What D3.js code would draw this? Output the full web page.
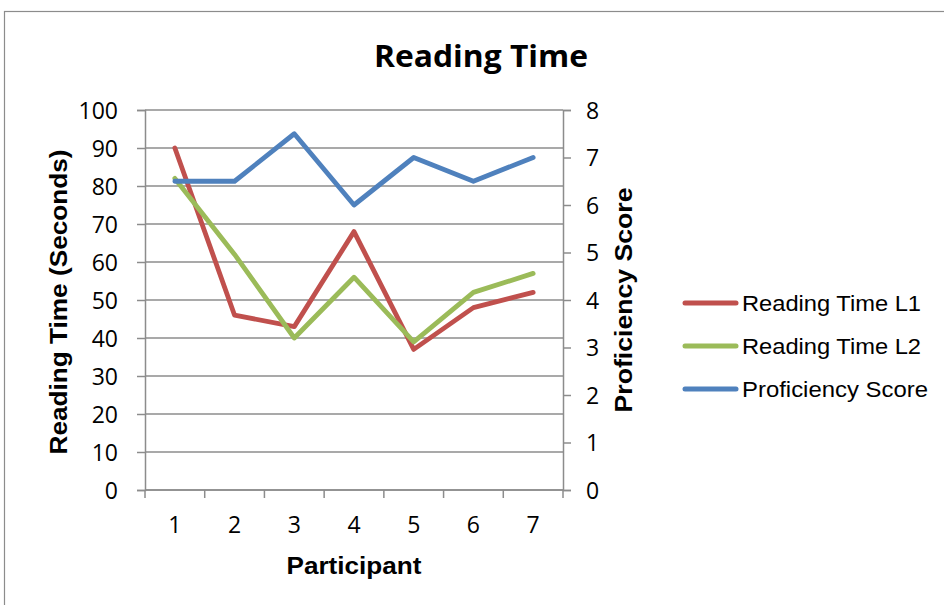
<!DOCTYPE html>
<html>
<head>
<meta charset="utf-8">
<script src="https://cdn.jsdelivr.net/npm/d3@7"></script>
<style>
  html, body { margin: 0; padding: 0; background: #fff; }
  svg { display: block; }
</style>
</head>
<body>
<svg id="chart" width="944" height="605"></svg>
<script>
// Participants and measured values
const participants = ["1", "2", "3", "4", "5", "6", "7"];
const readingL1 = [90, 46, 43, 68, 37, 48, 52];
const readingL2 = [82, 62, 40, 56, 39, 52, 57];
const proficiency = [6.5, 6.5, 7.5, 6, 7, 6.5, 7];
const leftTicks = [0, 10, 20, 30, 40, 50, 60, 70, 80, 90, 100];
const rightTicks = [0, 1, 2, 3, 4, 5, 6, 7, 8];
const seriesNames = ["Reading Time L1", "Reading Time L2", "Proficiency Score"];
const seriesColors = ["#C0504D", "#9BBB59", "#4F81BD"];

const svg = d3.select("#chart");
const plot = { left: 145, right: 563, top: 110, bottom: 490 };

const tickFont = "'Open Sans', sans-serif";
const labelFont = "'Liberation Sans', Arial, sans-serif";
const gridColor = "#8c8c8c";

// Chart frame
svg.append("rect")
  .attr("x", 4.5).attr("y", 11.5)
  .attr("width", 944).attr("height", 600)
  .attr("fill", "#fff").attr("stroke", "#8c8c8c").attr("stroke-width", 1.2);

const x = d3.scaleBand().domain(participants).range([plot.left, plot.right]);
const yL = d3.scaleLinear().domain([0, 100]).range([plot.bottom, plot.top]);
const yR = d3.scaleLinear().domain([0, 8]).range([plot.bottom, plot.top]);

// Horizontal gridlines
svg.append("g").selectAll("line").data(leftTicks).join("line")
  .attr("x1", plot.left).attr("x2", plot.right)
  .attr("y1", d => yL(d)).attr("y2", d => yL(d))
  .attr("stroke", gridColor).attr("stroke-width", 1.5);

// Left axis
const leftAxis = svg.append("g")
  .attr("transform", `translate(${plot.left},0)`)
  .call(d3.axisLeft(yL).tickValues(leftTicks).tickSize(8).tickPadding(19));
// Right axis
const rightAxis = svg.append("g")
  .attr("transform", `translate(${plot.right},0)`)
  .call(d3.axisRight(yR).tickValues(rightTicks).tickSize(8).tickPadding(15));
// Bottom axis, ticks drawn on category boundaries
const bottomAxis = svg.append("g")
  .attr("transform", `translate(0,${plot.bottom})`)
  .call(d3.axisBottom(x).tickSize(0).tickPadding(35));
bottomAxis.selectAll(".boundary")
  .data(d3.range(participants.length + 1))
  .join("line").attr("class", "boundary")
  .attr("x1", i => plot.left + i * x.step())
  .attr("x2", i => plot.left + i * x.step())
  .attr("y1", 0).attr("y2", 8)
  .attr("stroke", gridColor).attr("stroke-width", 1.5);

[leftAxis, rightAxis, bottomAxis].forEach(g => {
  g.select(".domain").attr("stroke", gridColor).attr("stroke-width", 1.5);
  g.selectAll(".tick line").attr("stroke", gridColor).attr("stroke-width", 1.5);
  g.selectAll(".tick text")
    .attr("fill", "#000")
    .attr("dy", "0.36em")
    .style("font-family", tickFont)
    .style("font-size", "23px");
});
bottomAxis.select(".domain").attr("d", `M${plot.left},0H${plot.right}`);

// Series lines
const seriesData = [
  { values: readingL1, scale: yL },
  { values: readingL2, scale: yL },
  { values: proficiency, scale: yR }
];
const line = scale => d3.line()
  .x((d, i) => x(participants[i]) + x.bandwidth() / 2)
  .y(d => scale(d));

svg.append("g").selectAll("path").data(seriesData).join("path")
  .attr("d", s => line(s.scale)(s.values))
  .attr("fill", "none")
  .attr("stroke", (s, i) => seriesColors[i])
  .attr("stroke-width", 4.8)
  .attr("stroke-linejoin", "round")
  .attr("stroke-linecap", "round");

// Chart title
svg.append("text")
  .attr("x", 481).attr("y", 67)
  .attr("text-anchor", "middle")
  .attr("textLength", 214).attr("lengthAdjust", "spacingAndGlyphs")
  .style("font-family", tickFont)
  .style("font-weight", "bold")
  .style("font-size", "30px")
  .text("Reading Time");

// Axis titles
svg.append("text")
  .attr("transform", "translate(67,302) rotate(-90)")
  .attr("text-anchor", "middle")
  .attr("textLength", 305).attr("lengthAdjust", "spacingAndGlyphs")
  .style("font-family", labelFont)
  .style("font-weight", "bold").style("font-size", "24px")
  .text("Reading Time (Seconds)");

svg.append("text")
  .attr("transform", "translate(632,300) rotate(-90)")
  .attr("text-anchor", "middle")
  .attr("textLength", 225).attr("lengthAdjust", "spacingAndGlyphs")
  .style("font-family", labelFont)
  .style("font-weight", "bold").style("font-size", "24px")
  .text("Proficiency Score");

svg.append("text")
  .attr("x", 354).attr("y", 574)
  .attr("text-anchor", "middle")
  .attr("textLength", 135).attr("lengthAdjust", "spacingAndGlyphs")
  .style("font-family", labelFont)
  .style("font-weight", "bold").style("font-size", "24px")
  .text("Participant");

// Legend
const legendWidths = [179, 179, 186];
const legend = svg.append("g").selectAll("g").data(seriesNames).join("g")
  .attr("transform", (d, i) => `translate(685,${303 + i * 43})`);
legend.append("line")
  .attr("x1", 0).attr("x2", 51).attr("y1", 0).attr("y2", 0)
  .attr("stroke", (d, i) => seriesColors[i])
  .attr("stroke-width", 5).attr("stroke-linecap", "round");
legend.append("text")
  .attr("x", 57).attr("y", 8)
  .attr("textLength", (d, i) => legendWidths[i]).attr("lengthAdjust", "spacingAndGlyphs")
  .style("font-family", labelFont)
  .style("font-size", "21.5px")
  .text(d => d);
</script>
</body>
</html>
